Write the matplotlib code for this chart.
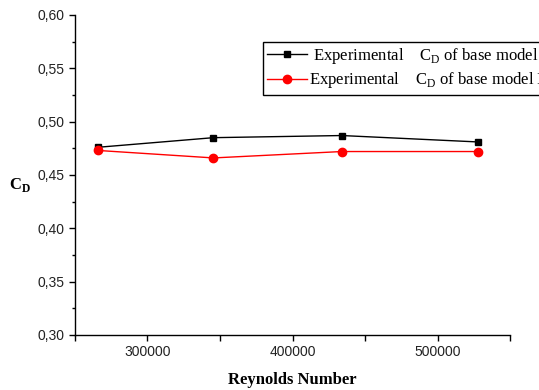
import matplotlib
matplotlib.use("Agg")
import matplotlib.pyplot as plt
from matplotlib.ticker import MultipleLocator, FuncFormatter

# Reynolds numbers and drag coefficients
reynolds = [266000, 345500, 434000, 527700]
cd_base_1 = [0.476, 0.485, 0.487, 0.481]
cd_base_2 = [0.473, 0.466, 0.472, 0.472]
label_1 = " Experimental    C$_\\mathregular{D}$ of base model I"
label_2 = "Experimental    C$_\\mathregular{D}$ of base model II"

fig = plt.figure(figsize=(5.39, 3.90), dpi=100)
eixo = fig.add_axes([75 / 539, 55 / 390, 435 / 539, 320 / 390])

eixo.plot(reynolds, cd_base_1, color='black', marker='s', markersize=5, linewidth=1, label=label_1)
eixo.plot(reynolds, cd_base_2, color='red', marker='o', markersize=6, linewidth=1, label=label_2)

eixo.set_xlim(250000, 550000)
eixo.set_ylim(0.30, 0.60)
eixo.xaxis.set_major_locator(MultipleLocator(100000))
eixo.xaxis.set_minor_locator(MultipleLocator(50000))
eixo.yaxis.set_major_locator(MultipleLocator(0.05))
eixo.yaxis.set_minor_locator(MultipleLocator(0.025))
eixo.yaxis.set_major_formatter(FuncFormatter(lambda v, p: f'{v:.2f}'.replace('.', ',')))
eixo.xaxis.set_major_formatter(FuncFormatter(lambda v, p: f'{int(v)}'))

for lado in ['top', 'right']:
    eixo.spines[lado].set_visible(False)
for lado in ['left', 'bottom']:
    eixo.spines[lado].set_linewidth(1.0)

eixo.tick_params(axis='both', which='major', direction='out', length=4, width=1,
                 labelsize=10, labelcolor='#222222')
eixo.tick_params(axis='x', which='minor', direction='out', length=4, width=1)
eixo.tick_params(axis='y', which='minor', direction='out', length=2.5, width=1)
for rotulo in eixo.get_xticklabels() + eixo.get_yticklabels():
    rotulo.set_family('Liberation Sans')

eixo.set_xlabel('Reynolds Number', family='Liberation Serif', fontweight='bold', fontsize=12, labelpad=9)
eixo.set_ylabel('C$_\\mathregular{D}$', family='Liberation Serif', fontweight='bold', fontsize=12,
                rotation=0)
eixo.yaxis.set_label_coords(-0.126, 0.44)

# legenda sai pela borda direita, como no original
legenda = fig.legend(loc='upper left', bbox_to_anchor=(263 / 539, 1 - 42 / 390),
                     prop={'family': 'Liberation Serif', 'size': 12},
                     frameon=True, fancybox=False, edgecolor='black', framealpha=1,
                     handlelength=2.4, handletextpad=0.1, borderpad=0.25, labelspacing=0.25,
                     borderaxespad=0)
legenda.get_frame().set_linewidth(1.0)

plt.savefig('out.png', dpi=100)
